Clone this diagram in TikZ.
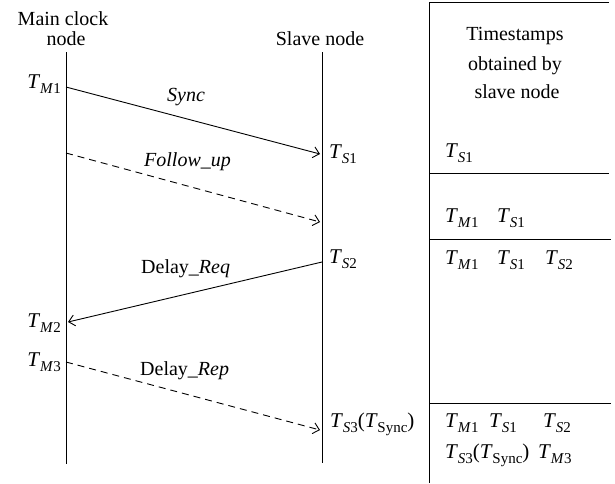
\documentclass[tikz,border=0pt]{standalone}
\usepackage{fontspec}
\setmainfont{Liberation Serif}
\usetikzlibrary{arrows.meta}
\newcommand{\Tsb}[1]{\textit{T}\kern-0.3pt\raisebox{-0.26em}{\fontsize{15}{15}\selectfont #1}}
\newcommand{\Mx}[1]{\Tsb{\textit{M}#1}}
\newcommand{\Sx}[1]{\Tsb{\textit{S}#1}}
\newcommand{\Tsyn}{\Sx{3}(\Tsb{Sync})}
\begin{document}
\begin{tikzpicture}[x=1pt,y=-1pt,
  every node/.style={font=\fontsize{20}{20}\selectfont, inner sep=0pt},
  ts/.style={font=\fontsize{21}{21}\selectfont},
  life/.style={line width=0.9pt},
  msg/.style={line width=0.9pt, -{Straight Barb[length=6pt,width=11pt]}},
  dmsg/.style={msg, dash pattern=on 7pt off 5pt},
  tbl/.style={line width=0.9pt}]
\useasboundingbox (0,0) rectangle (615,483);
% headers
\node[anchor=base] (mainh1) at (63,25) {Main clock};
\node[anchor=base] (mainh2) at (66,45) {node};
\node[anchor=base] (slaveh) at (320,45) {Slave node};
% lifelines
\coordinate (mtop) at (66,52); \coordinate (mbot) at (66,464);
\coordinate (stop) at (322,52); \coordinate (sbot) at (322,463);
\draw[life] (mtop) -- (mbot);
\draw[life] (stop) -- (sbot);
% points
\coordinate (m1) at (66,87);  \coordinate (s1) at (320,154);
\coordinate (mf) at (66,153); \coordinate (sf) at (320,222);
\coordinate (s2) at (322,262); \coordinate (m2) at (68,322);
\coordinate (m3) at (66,362); \coordinate (s3) at (320,430);
\draw[msg] (m1) -- (s1);
\draw[dmsg] (mf) -- (sf);
\draw[msg] (s2) -- (m2);
\draw[dmsg] (m3) -- (s3);
% labels
\node[anchor=base west] (lsync) at (167,101) {\textit{Sync}};
\node[anchor=base west] (lfol) at (144,166) {\textit{Follow\_up}};
\node[anchor=base west] (lreq) at (141,273) {Delay\textit{\_Req}};
\node[anchor=base west] (lrep) at (140,375) {Delay\textit{\_Rep}};
\node[ts,anchor=base east] (tm1) at (61,88) {\Mx{1}};
\node[ts,anchor=base east] (tm2) at (61,327) {\Mx{2}};
\node[ts,anchor=base east] (tm3) at (61,366) {\Mx{3}};
\node[ts,anchor=base west] (ts1) at (329,158) {\Sx{1}};
\node[ts,anchor=base west] (ts2) at (329,263) {\Sx{2}};
\node[ts,anchor=base west] (ts3) at (330,427) {\Tsyn};
% table
\coordinate (ttl) at (429,2); \coordinate (tbl) at (429,483);
\coordinate (ttr) at (609,2);
\draw[tbl] (ttr) -- (ttl) -- (tbl);
\coordinate (h1l) at (429,173); \coordinate (h1r) at (609,173);
\coordinate (h2l) at (429,239); \coordinate (h2r) at (611,239);
\coordinate (h3l) at (429,403); \coordinate (h3r) at (611,403);
\draw[tbl] (h1l) -- (h1r);
\draw[tbl] (h2l) -- (h2r);
\draw[tbl] (h3l) -- (h3r);
\node[anchor=base] (th1) at (515,40) {Timestamps};
\node[anchor=base] (th2) at (515,70) {obtained by};
\node[anchor=base] (th3) at (517,98) {slave node};
\node[ts,anchor=base west] (r1a) at (445,157) {\Sx{1}};
\node[ts,anchor=base west] (r2a) at (445,222) {\Mx{1}};
\node[ts,anchor=base west] (r2b) at (497,222) {\Sx{1}};
\node[ts,anchor=base west] (r3a) at (445,264) {\Mx{1}};
\node[ts,anchor=base west] (r3b) at (497,264) {\Sx{1}};
\node[ts,anchor=base west] (r3c) at (545,264) {\Sx{2}};
\node[ts,anchor=base west] (r4a) at (445,427) {\Mx{1}};
\node[ts,anchor=base west] (r4b) at (489,427) {\Sx{1}};
\node[ts,anchor=base west] (r4c) at (543,427) {\Sx{2}};
\node[ts,anchor=base west] (r5a) at (445,458) {\Tsyn};
\node[ts,anchor=base west] (r5b) at (538,458) {\Mx{3}};
\end{tikzpicture}
\end{document}
